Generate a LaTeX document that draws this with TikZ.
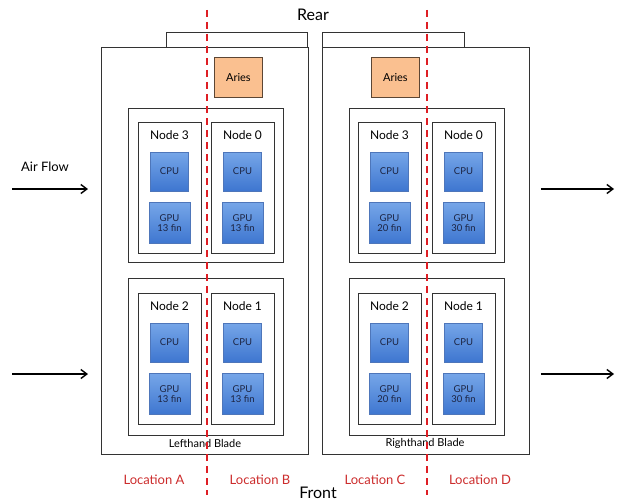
\documentclass[tikz,border=0pt]{standalone}
\usepackage{fontspec}
\setmainfont{Lato}
\usetikzlibrary{arrows.meta,positioning}
\definecolor{chiptop}{RGB}{118,166,232}
\definecolor{chipbot}{RGB}{62,118,208}
\definecolor{chipline}{RGB}{78,118,186}
\definecolor{chiptext}{RGB}{28,36,66}
\definecolor{aries}{RGB}{250,192,144}
\definecolor{ariesline}{RGB}{92,70,52}
\definecolor{cut}{RGB}{222,30,36}
\definecolor{loc}{RGB}{204,44,44}

\tikzset{
  blade/.style={draw=black!80,line width=.8pt,inner sep=0pt},
  module/.style={draw=black!80,line width=.8pt,minimum width=155pt,inner sep=0pt},
  nodebox/.style={draw=black!80,line width=.8pt,minimum width=63pt,minimum height=131pt,inner sep=0pt},
  chip/.style={draw=chipline,line width=.5pt,top color=chiptop,bottom color=chipbot,
    minimum width=38pt,minimum height=39pt,inner sep=0pt,align=center,
    text=chiptext,font=\fontsize{9.5}{11}\selectfont},
  router/.style={draw=ariesline,line width=.8pt,fill=aries,minimum width=48pt,minimum height=40pt,
    font=\fontsize{11}{13}\selectfont},
  flow/.style={-{Straight Barb[length=6pt,width=9pt]},line width=1.4pt},
  cutline/.style={cut,line width=2pt,dash pattern=on 7pt off 5pt},
  place/.style={text=loc,font=\fontsize{13}{15}\selectfont},
}

% one compute node: name, centre x, top y, label, gpu fins
\newcommand\compnode[5]{%
  \node[nodebox,anchor=north] (#1) at (#2,#3) {};
  \node[font=\fontsize{12}{14}\selectfont] (#1-lbl) at ([yshift=-13pt]#1.north) {#4};
  \node[chip] (#1-cpu) at ([yshift=-49.5pt]#1.north) {CPU};
  \node[chip,minimum width=41pt,minimum height=41pt] (#1-gpu) at ([yshift=-101pt]#1.north) {GPU\\[-1pt]#5};
}

\begin{document}
\begin{tikzpicture}[x=1pt,y=-1pt]
\useasboundingbox (0,0) rectangle (624,503);

% blades with their top tabs
\node[blade,minimum width=141pt,minimum height=15pt,anchor=north west] (ltab) at (166,32) {};
\node[blade,minimum width=142pt,minimum height=15pt,anchor=north west] (rtab) at (322,32) {};
\node[blade,fill=white,minimum width=207pt,minimum height=407pt,anchor=north west] (lblade) at (101,47) {};
\node[blade,fill=white,minimum width=207pt,minimum height=407pt,anchor=north west] (rblade) at (322,47) {};

\node[router,anchor=north west] (laries) at (214,57) {Aries};
\node[router,anchor=north west] (raries) at (371,57) {Aries};

% node modules
\node[module,minimum height=154pt,anchor=north] (lup) at (205.5,108) {};
\node[module,minimum height=157pt,anchor=north] (llo) at (205.5,278) {};
\node[module,minimum height=154pt,anchor=north] (rup) at (426.5,108) {};
\node[module,minimum height=157pt,anchor=north] (rlo) at (426.5,278) {};

\compnode{n3l}{169.5}{122}{Node 3}{13 fin}
\compnode{n0l}{242.5}{122}{Node 0}{13 fin}
\compnode{n2l}{169.5}{293}{Node 2}{13 fin}
\compnode{n1l}{242.5}{293}{Node 1}{13 fin}
\compnode{n3r}{389.5}{122}{Node 3}{20 fin}
\compnode{n0r}{463.5}{122}{Node 0}{30 fin}
\compnode{n2r}{389.5}{293}{Node 2}{20 fin}
\compnode{n1r}{463.5}{293}{Node 1}{30 fin}

\node[font=\fontsize{11}{13}\selectfont] (lname) at (205,443) {Lefthand Blade};
\node[font=\fontsize{11}{13}\selectfont] (rname) at (425,443) {Righthand Blade};

% air flow
\node[font=\fontsize{13}{15}\selectfont] (air) at (45,167) {Air Flow};
\coordinate (in1) at (12,189); \coordinate (in2) at (12,374);
\coordinate (out1) at (614,189); \coordinate (out2) at (614,374);
\draw[flow] (in1) -- ([xshift=-13pt]lblade.west |- in1);
\draw[flow] (in2) -- ([xshift=-13pt]lblade.west |- in2);
\draw[flow] ([xshift=11pt]rblade.east |- out1) -- (out1);
\draw[flow] ([xshift=11pt]rblade.east |- out2) -- (out2);

% cut lines between locations
\coordinate (cut1) at (207,10); \coordinate (cut1e) at (207,495);
\coordinate (cut2) at (427,10); \coordinate (cut2e) at (427,495);
\draw[cutline] (cut1) -- (cut1e);
\draw[cutline] (cut2) -- (cut2e);

\node[font=\fontsize{16}{18}\selectfont] (rear) at (313,15) {Rear};
\node[font=\fontsize{16}{18}\selectfont] (front) at (318,493) {Front};
\node[place] (locA) at (154,480) {Location A};
\node[place] (locB) at (260,480) {Location B};
\node[place] (locC) at (375,480) {Location C};
\node[place] (locD) at (480,480) {Location D};
\end{tikzpicture}
\end{document}
